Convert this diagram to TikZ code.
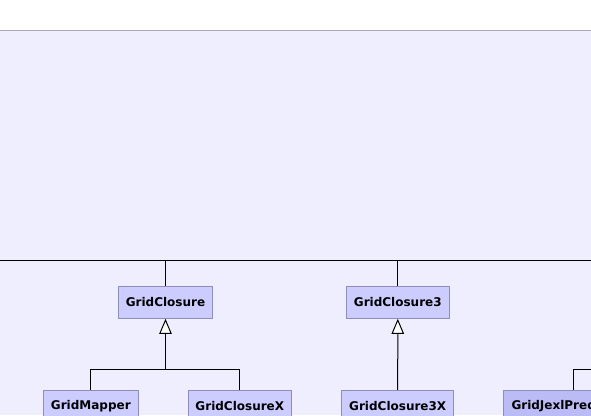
\documentclass[tikz,border=0pt]{standalone}
\usepackage{fontspec}
\newfontfamily\umlfont{DejaVu Sans}
\usetikzlibrary{arrows.meta}
\definecolor{bgpkg}{HTML}{EEEEFF}
\definecolor{pkgline}{HTML}{A8A8B8}
\definecolor{boxfill}{HTML}{CCCCFF}
\definecolor{boxdark}{HTML}{BBBBF5}
\definecolor{boxline}{HTML}{8E8EBC}
\tikzset{
  cls/.style={draw=boxline, fill=boxfill, line width=1pt, minimum height=32pt,
    inner sep=0pt, font=\umlfont\bfseries\fontsize{12}{14}\selectfont},
  clsdark/.style={cls, fill=boxdark},
  conn/.style={draw=black, line width=1pt},
  inh/.style={conn, -{Triangle[length=15pt,width=12.4pt,fill=white]}}
}
\begin{document}
\begin{tikzpicture}[x=1pt,y=-1pt]
\useasboundingbox (0,0) rectangle (591,415);
\clip (0,0) rectangle (591,415);
\fill[white] (0,0) rectangle (591,415);
\fill[bgpkg] (0,30.5) rectangle (591,415);
\draw[pkgline, line width=1pt] (0,30.5) -- (591,30.5);

\node[cls, minimum width=94.3pt] (gc) at (165.5,302.3) {GridClosure};
\node[cls, minimum width=103pt] (gc3) at (397.8,302.3) {GridClosure3};
\node[cls, minimum width=95pt] (gm) at (90.8,406.3) {GridMapper};
\node[cls, minimum width=103pt] (gcx) at (239.8,406.3) {GridClosureX};
\node[cls, minimum width=112pt] (gc3x) at (397.7,406.3) {GridClosure3X};
\node[clsdark, inner xsep=8.5pt, text width=123.6pt, align=left] (gjp) at (573.3,406.3) {GridJexlPredicate};

\coordinate (tl) at (0,260.5);
\coordinate (tr) at (591,260.5);
\coordinate (j1) at (165.5,369.3);
\coordinate (jr) at (591,369.3);

\draw[conn] (tl) -- (tr);
\draw[conn] (gc.north) -- (gc.north |- tl);
\draw[conn] (gc3.north) -- (gc3.north |- tl);

\draw[conn] (gm.north) |- (j1) -| (gcx.north);
\draw[inh] (j1) -- (gc.south);
\draw[inh] (gc3x.north) -- (gc3.south);
\draw[conn] (gjp.north) |- (jr);
\end{tikzpicture}
\end{document}
